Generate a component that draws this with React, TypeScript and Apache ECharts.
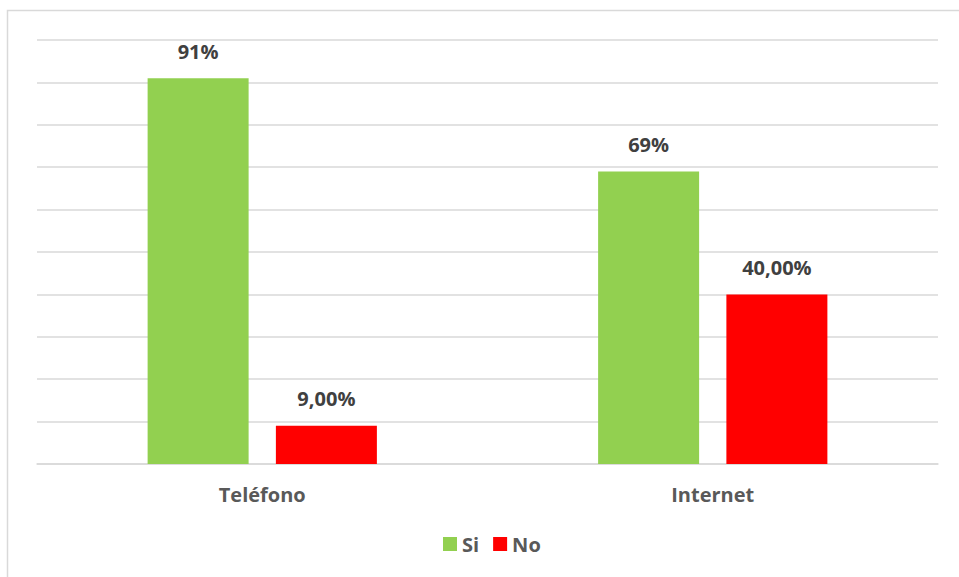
import React, { useEffect, useRef } from "react";
import * as echarts from "echarts";

const categories = ["Teléfono", "Internet"];
const siValues = [0.91, 0.69];
const noValues = [0.09, 0.4];
const siLabels = ["91%", "69%"];
const noLabels = ["9,00%", "40,00%"];
const seriesNames = ["Si", "No"];

export default function App() {
  const ref = useRef<HTMLDivElement>(null);
  useEffect(() => {
    if (!ref.current) return;
    const chart = echarts.init(ref.current, null, { renderer: "svg" });
    const font = "'Open Sans', Lato, sans-serif";
    const labelStyle = {
      show: true,
      position: "top" as const,
      distance: 17,
      color: "#404040",
      fontSize: 20,
      fontWeight: "bold" as const,
      fontFamily: font,
    };
    chart.setOption({
      animation: false,
      backgroundColor: "#ffffff",
      graphic: [
        {
          type: "rect",
          shape: { x: 7.5, y: 10.5, width: 1000, height: 1000 },
          style: { fill: "none", stroke: "#d9d9d9", lineWidth: 1.5 },
          silent: true,
        },
      ],
      grid: { left: 37, right: 21, top: 40, bottom: 113, containLabel: false },
      legend: {
        bottom: 18,
        left: 438,
        itemWidth: 14,
        itemHeight: 14,
        itemGap: 14,
        icon: "rect",
        textStyle: { color: "#595959", fontSize: 20, fontWeight: "bold", fontFamily: font },
        data: seriesNames,
      },
      xAxis: {
        type: "category",
        data: categories,
        axisLine: { lineStyle: { color: "#d9d9d9", width: 1.5 } },
        axisTick: { show: false },
        axisLabel: { color: "#595959", fontSize: 20, fontWeight: "bold", fontFamily: font, margin: 20 },
      },
      yAxis: {
        type: "value",
        min: 0,
        max: 1,
        interval: 0.1,
        axisLabel: { show: false },
        axisLine: { show: false },
        axisTick: { show: false },
        splitLine: { lineStyle: { color: "#d9d9d9", width: 1.5 } },
      },
      series: [
        {
          name: seriesNames[0],
          type: "bar",
          data: siValues,
          barWidth: 101,
          barGap: "27%",
          itemStyle: { color: "#92D050" },
          label: { ...labelStyle, formatter: (p: any) => siLabels[p.dataIndex] },
        },
        {
          name: seriesNames[1],
          type: "bar",
          data: noValues,
          barWidth: 101,
          barGap: "27%",
          itemStyle: { color: "#FF0000" },
          label: { ...labelStyle, formatter: (p: any) => noLabels[p.dataIndex] },
        },
      ],
    });
    return () => chart.dispose();
  }, []);
  return (
    <div
      ref={ref}
      style={{ position: "absolute", left: 0, top: 0, width: 959, height: 577 }}
    />
  );
}
